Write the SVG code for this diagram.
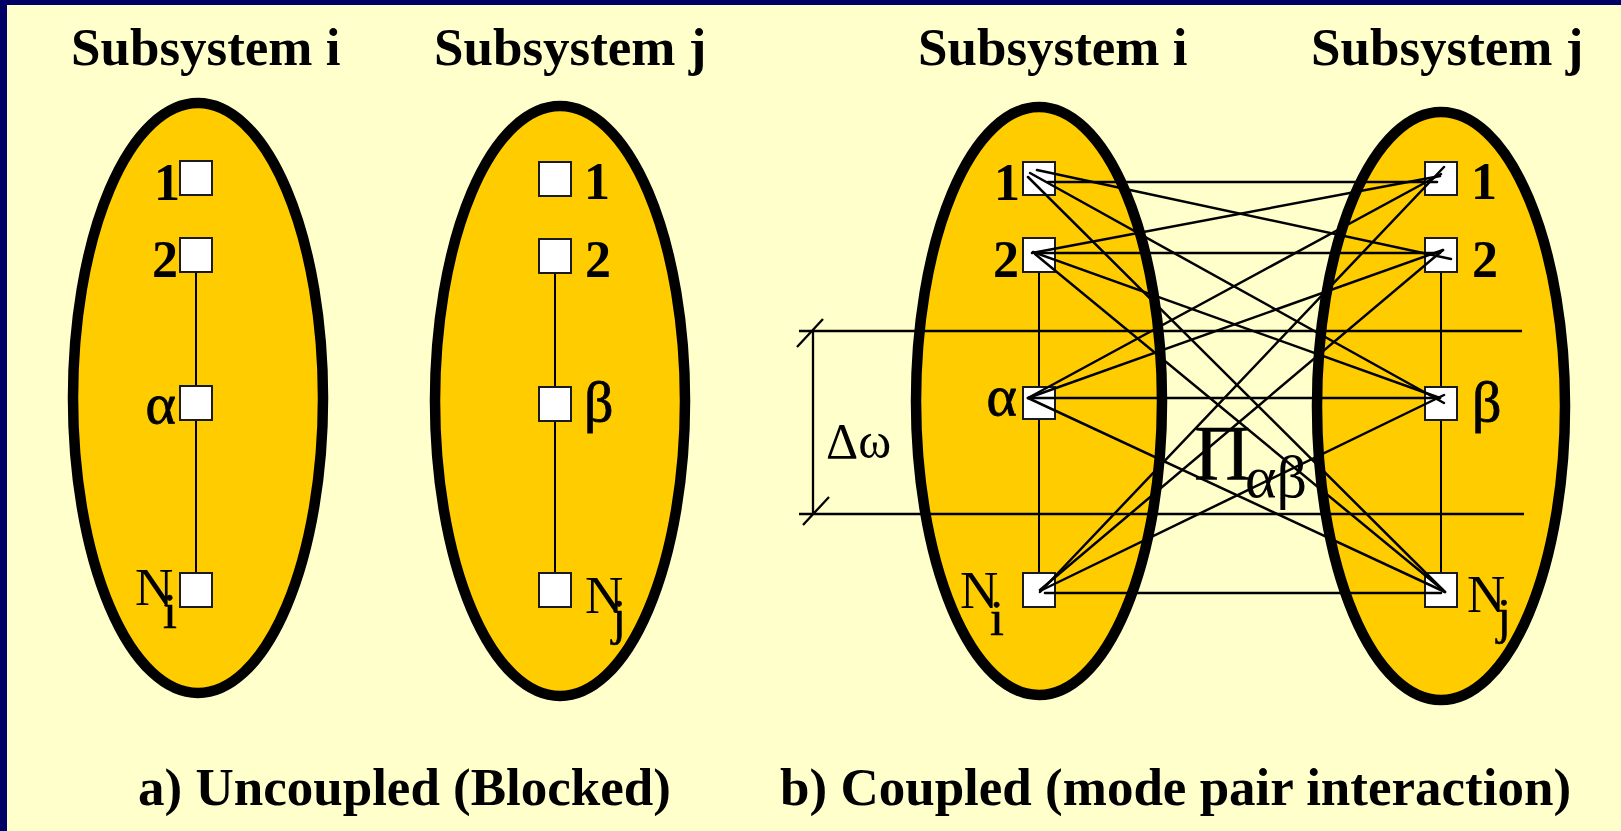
<svg xmlns="http://www.w3.org/2000/svg" width="1621" height="831" viewBox="0 0 1621 831">
  <style>
    .title { font-family: "Liberation Serif", "Times New Roman", serif; font-weight: bold; font-size: 53px; fill: #000; }
    .num { font-family: "Liberation Serif", "Times New Roman", serif; font-weight: bold; font-size: 52px; fill: #000; }
    .greek { font-family: "Liberation Serif", "Times New Roman", serif; font-size: 58px; fill: #000; stroke: #000; stroke-width: 0.8; }
    .nlab { font-family: "Liberation Serif", "Times New Roman", serif; font-size: 53px; fill: #000; }
    .sub { font-family: "Liberation Serif", "Times New Roman", serif; font-size: 50px; fill: #000; stroke: #000; stroke-width: 0.6; }
    .sym { font-family: "Liberation Serif", "Times New Roman", serif; fill: #000; }
    .sys { fill: #FFCC00; stroke: #000; stroke-width: 10.5; }
    .mode { fill: #FFFFFF; stroke: #1a1a1a; stroke-width: 2; }
    .chain { stroke: #000; stroke-width: 2; fill: none; }
    .link { stroke: #000; stroke-width: 2.5; fill: none; stroke-linecap: round; }
    .dim { stroke: #000; stroke-width: 2.3; fill: none; }
  </style>

  <!-- page background with frame edge -->
  <rect x="0" y="0" width="1621" height="831" fill="#FFFFCC"/>
  <rect x="0" y="0" width="1621" height="5" fill="#000066"/>
  <rect x="0" y="0" width="7" height="831" fill="#000066"/>

  <!-- headings and captions -->
  <g id="titles">
    <text class="title" x="71" y="65">Subsystem i</text>
    <text class="title" x="434" y="65">Subsystem j</text>
    <text class="title" x="918" y="65">Subsystem i</text>
    <text class="title" x="1311" y="65">Subsystem j</text>
    <text class="title" x="138" y="805">a) Uncoupled (Blocked)</text>
    <text class="title" x="780" y="805">b) Coupled (mode pair interaction)</text>
  </g>

  <!-- subsystem envelopes -->
  <g id="sys-a-i"><ellipse class="sys" cx="198" cy="398" rx="125" ry="295"/></g>
  <g id="sys-a-j"><ellipse class="sys" cx="560" cy="401" rx="125" ry="295"/></g>
  <g id="sys-b-i"><ellipse class="sys" cx="1039" cy="401" rx="123" ry="294"/></g>
  <g id="sys-b-j"><ellipse class="sys" cx="1441" cy="406" rx="124" ry="294"/></g>

  <!-- frequency band Δω -->
  <g id="band">
    <path class="dim" d="M799,331 H1522 M799,514 H1524 M813,331 V514 M797,347 L823,319 M803,525 L829,497"/>
    <text class="sym" x="826" y="458" font-size="50">Δω</text>
  </g>

  <!-- mode chains inside each subsystem -->
  <g id="chains">
    <path class="chain" d="M196,272 V573"/>
    <path class="chain" d="M555,272 V573"/>
    <path class="chain" d="M1039,272 V573"/>
    <path class="chain" d="M1441,272 V573"/>
  </g>

  <!-- modes, uncoupled subsystem i -->
  <g id="a-i-1"><rect class="mode" x="180" y="161" width="32" height="34"/><text class="num" x="180" y="200" text-anchor="end">1</text></g>
  <g id="a-i-2"><rect class="mode" x="180" y="238" width="32" height="34"/><text class="num" x="178" y="277" text-anchor="end">2</text></g>
  <g id="a-i-alpha"><rect class="mode" x="180" y="386" width="32" height="34"/><text class="greek" x="176" y="423" text-anchor="end">α</text></g>
  <g id="a-i-N"><rect class="mode" x="180" y="573" width="32" height="34"/><text class="nlab" x="135" y="605">N</text><text class="sub" x="163" y="628">i</text></g>

  <!-- modes, uncoupled subsystem j -->
  <g id="a-j-1"><rect class="mode" x="539" y="162" width="32" height="34"/><text class="num" x="584" y="199">1</text></g>
  <g id="a-j-2"><rect class="mode" x="539" y="239" width="32" height="34"/><text class="num" x="585" y="277">2</text></g>
  <g id="a-j-beta"><rect class="mode" x="539" y="387" width="32" height="34"/><text class="greek" x="584" y="421">β</text></g>
  <g id="a-j-N"><rect class="mode" x="539" y="573" width="32" height="34"/><text class="nlab" x="585" y="613">N</text><text class="sub" x="612" y="634">j</text></g>

  <!-- modes, coupled subsystem i -->
  <g id="b-i-1"><rect class="mode" x="1023" y="162" width="32" height="33"/><text class="num" x="1020" y="200" text-anchor="end">1</text></g>
  <g id="b-i-2"><rect class="mode" x="1023" y="238" width="32" height="34"/><text class="num" x="1019" y="277" text-anchor="end">2</text></g>
  <g id="b-i-alpha"><rect class="mode" x="1023" y="387" width="32" height="32"/><text class="greek" x="1017" y="415" text-anchor="end">α</text></g>
  <g id="b-i-N"><rect class="mode" x="1023" y="573" width="32" height="34"/><text class="nlab" x="960" y="608">N</text><text class="sub" x="990" y="635">i</text></g>

  <!-- modes, coupled subsystem j -->
  <g id="b-j-1"><rect class="mode" x="1425" y="162" width="32" height="33"/><text class="num" x="1471" y="199">1</text></g>
  <g id="b-j-2"><rect class="mode" x="1425" y="238" width="32" height="34"/><text class="num" x="1472" y="277">2</text></g>
  <g id="b-j-beta"><rect class="mode" x="1425" y="387" width="32" height="33"/><text class="greek" x="1472" y="421">β</text></g>
  <g id="b-j-N"><rect class="mode" x="1425" y="573" width="32" height="34"/><text class="nlab" x="1467" y="612">N</text><text class="sub" x="1497" y="633">j</text></g>

  <!-- mode pair couplings between subsystems -->
  <g id="connectors">
    <path class="link" d="M1048,182 H1437"/>
    <path class="link" d="M1037,170 L1451,259"/>
    <path class="link" d="M1030,173 L1444,403"/>
    <path class="link" d="M1028,177 L1445,592"/>

    <path class="link" d="M1032,253 L1440,176"/>
    <path class="link" d="M1036,253 H1440"/>
    <path class="link" d="M1033,252 L1440,398"/>
    <path class="link" d="M1035,254 L1443,590"/>

    <path class="link" d="M1028,398 L1441,174"/>
    <path class="link" d="M1028,398 L1443,250"/>
    <path class="link" d="M1030,398 H1440"/>
    <path class="link" d="M1028,398 L1445,592"/>

    <path class="link" d="M1040,592 L1444,167"/>
    <path class="link" d="M1040,590 L1443,250"/>
    <path class="link" d="M1042,590 L1444,395"/>
    <path class="link" d="M1045,593 H1441"/>
  </g>

  <!-- coupling factor label -->
  <g id="coupling-label">
    <text class="sym" x="1194" y="479" font-size="78" stroke="#000" stroke-width="0.6">Π</text>
    <text class="sym" x="1245" y="497" font-size="60">αβ</text>
  </g>
</svg>
